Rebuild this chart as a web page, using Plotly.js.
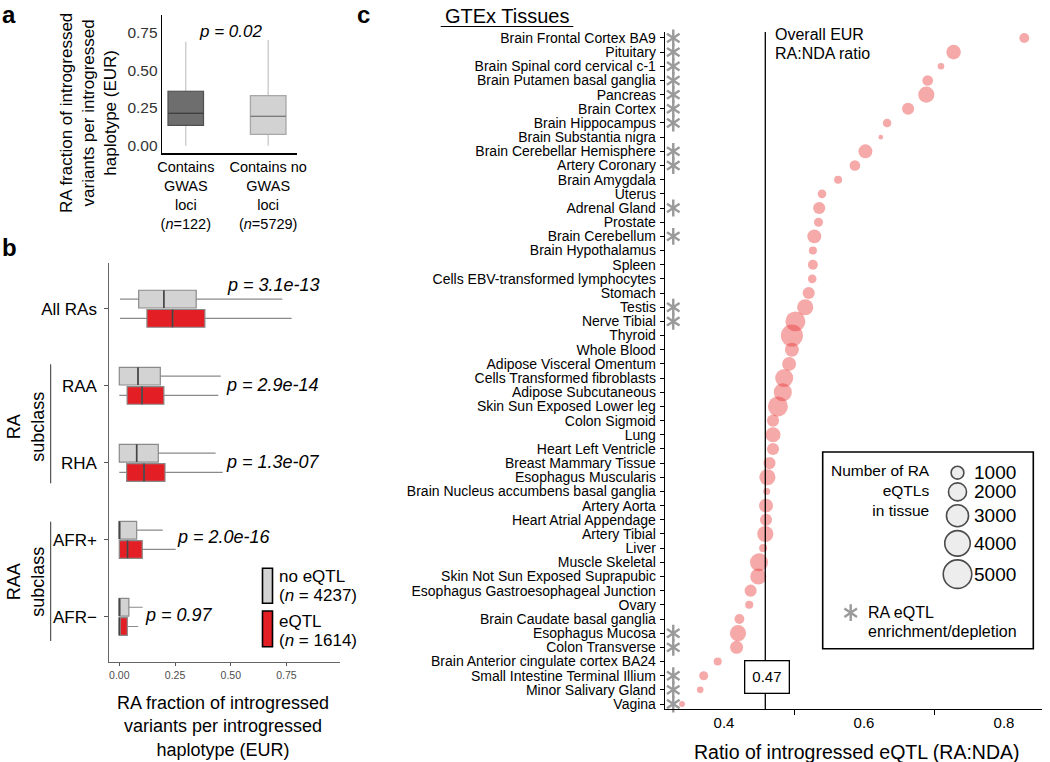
<!DOCTYPE html>
<html><head><meta charset="utf-8">
<script src="https://cdn.plot.ly/plotly-3.0.1.min.js"></script>
<style>html,body{margin:0;padding:0;background:#fff}#chart{width:1050px;height:762px}</style>
</head><body><div id="chart"></div>
<script>
// ---------- Panel a data ----------
const gwasGroups = ["Contains<br>GWAS<br>loci<br>(<i>n</i>=122)", "Contains no<br>GWAS<br>loci<br>(<i>n</i>=5729)"];
const gwasQ1 = [0.135, 0.075];
const gwasMedian = [0.214, 0.194];
const gwasQ3 = [0.360, 0.331];
const gwasLower = [0.0, 0.0];
const gwasUpper = [0.688, 0.699];
const gwasTickVals = [0, 0.25, 0.5, 0.75];
const gwasPValue = "p = 0.02";

// ---------- Panel b data ----------
const raClasses = ["All RAs", "RAA", "RHA", "AFR+", "AFR\u2212"];
const noEqtlQ1 = [0.087, 0.000, 0.000, 0.000, 0.000];
const noEqtlMedian = [0.200, 0.084, 0.078, 0.000, 0.000];
const noEqtlQ3 = [0.345, 0.184, 0.175, 0.078, 0.043];
const noEqtlLower = [0.003, 0.000, 0.000, 0.000, 0.000];
const noEqtlUpper = [0.731, 0.455, 0.432, 0.195, 0.105];
const eqtlQ1 = [0.124, 0.035, 0.033, 0.000, 0.000];
const eqtlMedian = [0.239, 0.102, 0.111, 0.037, 0.000];
const eqtlQ3 = [0.384, 0.200, 0.205, 0.103, 0.036];
const eqtlLower = [0.003, 0.000, 0.000, 0.000, 0.000];
const eqtlUpper = [0.773, 0.444, 0.464, 0.253, 0.085];
const raPValues = ["p = 3.1e-13", "p = 2.9e-14", "p = 1.3e-07", "p = 2.0e-16", "p = 0.97"];
const fracTickVals = [0, 0.25, 0.5, 0.75];
const noEqtlN = 4237;
const eqtlN = 1614;

// ---------- Panel c data ----------
const tissues = [
  "Brain Frontal Cortex BA9", "Pituitary", "Brain Spinal cord cervical c-1", "Brain Putamen basal ganglia",
  "Pancreas", "Brain Cortex", "Brain Hippocampus", "Brain Substantia nigra", "Brain Cerebellar Hemisphere",
  "Artery Coronary", "Brain Amygdala", "Uterus", "Adrenal Gland", "Prostate", "Brain Cerebellum",
  "Brain Hypothalamus", "Spleen", "Cells EBV-transformed lymphocytes", "Stomach", "Testis", "Nerve Tibial",
  "Thyroid", "Whole Blood", "Adipose Visceral Omentum", "Cells Transformed fibroblasts", "Adipose Subcutaneous",
  "Skin Sun Exposed Lower leg", "Colon Sigmoid", "Lung", "Heart Left Ventricle", "Breast Mammary Tissue",
  "Esophagus Muscularis", "Brain Nucleus accumbens basal ganglia", "Artery Aorta", "Heart Atrial Appendage",
  "Artery Tibial", "Liver", "Muscle Skeletal", "Skin Not Sun Exposed Suprapubic",
  "Esophagus Gastroesophageal Junction", "Ovary", "Brain Caudate basal ganglia", "Esophagus Mucosa",
  "Colon Transverse", "Brain Anterior cingulate cortex BA24", "Small Intestine Terminal Illium",
  "Minor Salivary Gland", "Vagina"
];
const ratio = [
  0.829, 0.728, 0.710, 0.691, 0.689, 0.663, 0.633, 0.624, 0.602, 0.587, 0.563, 0.540,
  0.536, 0.535, 0.529, 0.527, 0.527, 0.526, 0.521, 0.516, 0.502, 0.497, 0.497, 0.493,
  0.486, 0.484, 0.477, 0.470, 0.470, 0.470, 0.465, 0.462, 0.461, 0.460, 0.460, 0.459,
  0.456, 0.450, 0.449, 0.438, 0.436, 0.422, 0.420, 0.418, 0.391, 0.371, 0.366, 0.340
];
const nEqtl = [
  600, 1300, 270, 700, 1600, 900, 450, 130, 1200, 700, 400, 450,
  900, 500, 1200, 400, 600, 450, 900, 1600, 2450, 3000, 1200, 1200,
  2000, 2000, 2450, 900, 1400, 900, 900, 1600, 300, 1200, 900, 1600,
  400, 2000, 1600, 900, 400, 600, 1600, 1040, 400, 500, 270, 220
];
const enrichedTissues = [
  "Brain Frontal Cortex BA9", "Pituitary", "Brain Spinal cord cervical c-1", "Brain Putamen basal ganglia",
  "Pancreas", "Brain Cortex", "Brain Hippocampus", "Brain Cerebellar Hemisphere", "Artery Coronary",
  "Adrenal Gland", "Brain Cerebellum", "Testis", "Nerve Tibial", "Esophagus Mucosa", "Colon Transverse",
  "Small Intestine Terminal Illium", "Minor Salivary Gland", "Vagina"
];
const overallRatio = 0.459;
const overallLabel = "0.47";
const sizeLegendValues = [1000, 2000, 3000, 4000, 5000];
const ratioTickVals = [0.4, 0.6, 0.8];
const ratioMinorTicks = [0.5, 0.7];

// ---------- helpers ----------
const W = 1050, H = 762;
const px = v => v / W;
const py = v => 1 - v / H;
const FONT = "Liberation Sans, Arial, Helvetica, sans-serif";
const SIZEREF = 12.3;
const bubbleDiam = n => Math.sqrt(2 * n / SIZEREF);
const AST_GRAY = "#9a9a9a";

const traces = [];

// Panel a boxes: whiskers (light), then filled boxes
traces.push({
  type: "box", xaxis: "x", yaxis: "y", x: [1, 2],
  q1: gwasQ1, median: gwasMedian, q3: gwasQ3, lowerfence: gwasLower, upperfence: gwasUpper,
  width: 0.43, whiskerwidth: 0, fillcolor: "rgba(0,0,0,0)", line: {color: "#c4c4c4", width: 1.2},
  boxpoints: false, hoverinfo: "skip", showlegend: false
});
const aFill = ["#6e6e6e", "#d2d2d2"];
const aLine = ["#505050", "#a8a8a8"];
const aMed = ["#404040", "#7a7a7a"];
for (let i = 0; i < 2; i++) {
  traces.push({
    type: "box", xaxis: "x", yaxis: "y", x: [i + 1],
    q1: [gwasQ1[i]], median: [gwasMedian[i]], q3: [gwasQ3[i]], lowerfence: [gwasQ1[i]], upperfence: [gwasQ3[i]],
    width: 0.43, whiskerwidth: 0, fillcolor: aFill[i], line: {color: aLine[i], width: 1.2},
    boxpoints: false, hoverinfo: "skip", showlegend: false
  });
  traces.push({
    type: "scatter", mode: "lines", xaxis: "x", yaxis: "y",
    x: [i + 1 - 0.215, i + 1 + 0.215], y: [gwasMedian[i], gwasMedian[i]],
    line: {color: aMed[i], width: 1.3}, hoverinfo: "skip", showlegend: false
  });
}

// Panel b boxes
const bPos = raClasses.map((c, i) => raClasses.length - i);
const bOff = 0.125, bW = 0.23;
function hbox(q1, med, q3, lo, hi, off, fill) {
  traces.push({
    type: "box", orientation: "h", xaxis: "x2", yaxis: "y2", y: bPos.map(p => p + off),
    q1: q1, median: med, q3: q3, lowerfence: lo, upperfence: hi,
    width: bW, whiskerwidth: 0, fillcolor: fill, line: {color: "#8a8a8a", width: 1.2},
    boxpoints: false, hoverinfo: "skip", showlegend: false
  });
  const mx = [], my = [];
  med.forEach((m, i) => { mx.push(m, m, null); my.push(bPos[i] + off - bW / 2, bPos[i] + off + bW / 2, null); });
  traces.push({
    type: "scatter", mode: "lines", xaxis: "x2", yaxis: "y2", x: mx, y: my,
    line: {color: "#444", width: 1.6}, hoverinfo: "skip", showlegend: false
  });
}
hbox(noEqtlQ1, noEqtlMedian, noEqtlQ3, noEqtlLower, noEqtlUpper, bOff, "#d3d3d3");
hbox(eqtlQ1, eqtlMedian, eqtlQ3, eqtlLower, eqtlUpper, -bOff, "#e31e24");

// Panel c bubbles
traces.push({
  type: "scatter", mode: "markers", xaxis: "x3", yaxis: "y3", x: ratio, y: tissues,
  marker: {size: nEqtl, sizemode: "area", sizeref: SIZEREF, color: "rgba(230,50,50,0.6)", line: {width: 0}},
  hoverinfo: "skip", showlegend: false
});
// asterisks (six-spoke = y-up + y-down)
const astX = 0.3275;
["y-up-open", "y-down-open"].forEach(sym => {
  traces.push({
    type: "scatter", mode: "markers", xaxis: "x3", yaxis: "y3",
    x: enrichedTissues.map(() => astX), y: enrichedTissues,
    marker: {symbol: sym, size: 10.5, color: AST_GRAY, line: {color: AST_GRAY, width: 2.4}},
    hoverinfo: "skip", showlegend: false, cliponaxis: false
  });
});

// Panel c size legend (overlay pixel axis)
const legX = 957.5;
const legY = [];
let yy = 472.7;
sizeLegendValues.forEach((v, i) => {
  if (i > 0) yy += (bubbleDiam(sizeLegendValues[i - 1]) + bubbleDiam(v)) / 2 + 3.8;
  legY.push(yy);
});
traces.push({
  type: "scatter", mode: "markers", xaxis: "x4", yaxis: "y4",
  x: sizeLegendValues.map(() => legX), y: legY,
  marker: {size: sizeLegendValues, sizemode: "area", sizeref: SIZEREF, color: "#e6e6e6", line: {color: "#000", width: 1.6}},
  hoverinfo: "skip", showlegend: false, cliponaxis: false
});
["y-up-open", "y-down-open"].forEach(sym => {
  traces.push({
    type: "scatter", mode: "markers", xaxis: "x4", yaxis: "y4", x: [850.7], y: [612.7],
    marker: {symbol: sym, size: 10.5, color: AST_GRAY, line: {color: AST_GRAY, width: 2.4}},
    hoverinfo: "skip", showlegend: false, cliponaxis: false
  });
});

// ---------- annotations ----------
const ann = [];
function t(text, x, y, size, opts) {
  ann.push(Object.assign({text: text, x: px(x), y: py(y), xref: "paper", yref: "paper",
    showarrow: false, xanchor: "center", yanchor: "middle", font: {size: size, color: "#000", family: FONT}}, opts || {}));
}
t("<b>a</b>", 9, 15, 24);
t("<b>b</b>", 9, 247, 24);
t("<b>c</b>", 363, 15, 24);
t("<i>" + gwasPValue + "</i>", 230.8, 31.7, 17);
t("RA fraction of introgressed<br>variants per introgressed<br>haplotype (EUR)", 88, 113, 17, {textangle: -90});
const pvX = [225, 224, 224, 175, 143.3];
const pvY = [285, 385, 461.7, 536.7, 615];
raPValues.forEach((p, i) => t("<i>" + p + "</i>", pvX[i], pvY[i], 18, {xanchor: "left"}));
t("RA<br>subclass", 26, 426.7, 18, {textangle: -90});
t("RAA<br>subclass", 26, 581.7, 18, {textangle: -90});
t("no eQTL", 276.5, 576, 17, {xanchor: "left"});
t("(<i>n</i> = " + noEqtlN + ")", 276.5, 595, 17, {xanchor: "left"});
t("eQTL", 276.5, 621, 17, {xanchor: "left"});
t("(<i>n</i> = " + eqtlN + ")", 276.5, 640, 17, {xanchor: "left"});
t("RA fraction of introgressed<br>variants per introgressed<br>haplotype (EUR)", 223, 726, 18);
t("GTEx Tissues", 507, 16, 20);
t("Overall EUR", 773, 34.3, 16, {xanchor: "left"});
t("RA:NDA ratio", 773, 53.7, 16, {xanchor: "left"});
t(overallLabel, 766.7, 677, 15, {bgcolor: "#fff", bordercolor: "#000", borderwidth: 1.3, borderpad: 7});
t("Number of RA<br>eQTLs<br>in tissue", 931.7, 490, 15.5, {xanchor: "right", align: "right"});
sizeLegendValues.forEach((v, i) => t(String(v), 972, legY[i], 19, {xanchor: "left"}));
t("RA eQTL", 866, 612.7, 16, {xanchor: "left"});
t("enrichment/depletion", 866, 631.3, 16, {xanchor: "left"});
t("Ratio of introgressed eQTL (RA:NDA)", 856, 751.7, 19.5);

// ---------- shapes ----------
const shapes = [
  {type: "line", xref: "x3", yref: "paper", x0: overallRatio, x1: overallRatio, y0: py(709), y1: py(32), line: {color: "#000", width: 1.3}},
  {type: "rect", xref: "paper", yref: "paper", x0: px(822.7), x1: px(1033.3), y0: py(648.7), y1: py(452), line: {color: "#000", width: 1.6}, fillcolor: "rgba(0,0,0,0)"},
  {type: "line", xref: "paper", yref: "paper", x0: px(50.7), x1: px(50.7), y0: py(364.3), y1: py(483.3), line: {color: "#333", width: 1}},
  {type: "line", xref: "paper", yref: "paper", x0: px(50.7), x1: px(50.7), y0: py(521.7), y1: py(641), line: {color: "#333", width: 1}},
  {type: "rect", xref: "paper", yref: "paper", x0: px(262.5), x1: px(272.5), y0: py(603.3), y1: py(568.3), line: {color: "#000", width: 1.6}, fillcolor: "#d3d3d3"},
  {type: "rect", xref: "paper", yref: "paper", x0: px(262.5), x1: px(272.5), y0: py(646.7), y1: py(611), line: {color: "#000", width: 1.6}, fillcolor: "#e31e24"},
  {type: "line", xref: "paper", yref: "paper", x0: px(440.7), x1: px(573.3), y0: py(26.5), y1: py(26.5), line: {color: "#000", width: 1.2}}
];

const layout = {
  width: W, height: H, autosize: false,
  margin: {l: 0, r: 0, t: 0, b: 0},
  paper_bgcolor: "#fff", plot_bgcolor: "rgba(0,0,0,0)",
  font: {family: FONT, color: "#000"},
  showlegend: false, boxmode: "overlay",
  xaxis: {domain: [px(162.3), px(297)], range: [0.715, 2.35], anchor: "y",
    tickmode: "array", tickvals: [1, 2], ticktext: gwasGroups, ticks: "",
    tickfont: {size: 14.5, color: "#000"}, showline: true, linecolor: "#000", linewidth: 1.6,
    showgrid: false, zeroline: false, fixedrange: true},
  yaxis: {domain: [py(153.3), py(15)], range: [-0.05, 0.864], anchor: "x",
    tickmode: "array", tickvals: gwasTickVals, ticktext: gwasTickVals.map(v => v.toFixed(2)), ticks: "",
    tickfont: {size: 15.5, color: "#333"}, showline: true, linecolor: "#000", linewidth: 1.6,
    showgrid: false, zeroline: false, fixedrange: true},
  xaxis2: {domain: [px(109.3), px(340)], range: [-0.0448, 0.99], anchor: "y2",
    tickmode: "array", tickvals: fracTickVals, ticktext: fracTickVals.map(v => v.toFixed(2)),
    ticks: "outside", ticklen: 3, tickcolor: "#555", tickwidth: 1,
    tickfont: {size: 10.5, color: "#4d4d4d"}, showline: true, linecolor: "#666", linewidth: 1,
    showgrid: false, zeroline: false, fixedrange: true},
  yaxis2: {domain: [py(662.3), py(263.3)], range: [0.41, 5.59], anchor: "x2",
    tickmode: "array", tickvals: bPos, ticktext: raClasses,
    ticks: "outside", ticklen: 4, tickcolor: "#555", tickwidth: 1, ticklabelstandoff: 4,
    tickfont: {size: 17, color: "#000"}, showline: true, linecolor: "#666", linewidth: 1,
    showgrid: false, zeroline: false, fixedrange: true},
  xaxis3: {domain: [px(665), px(1042)], range: [0.3157, 0.8543], anchor: "y3",
    tickmode: "array", tickvals: ratioTickVals, ticktext: ratioTickVals.map(v => v.toFixed(1)), ticks: "",
    minor: {tickmode: "array", tickvals: ratioMinorTicks, ticks: "outside", ticklen: 5, tickcolor: "#000", tickwidth: 1, showgrid: false},
    tickfont: {size: 15, color: "#000"}, showline: true, linecolor: "#000", linewidth: 1.3,
    showgrid: false, zeroline: false, fixedrange: true},
  yaxis3: {domain: [py(709), py(32)], type: "category", categoryorder: "array", categoryarray: tissues,
    range: [47.35, -0.42], anchor: "x3",
    tickmode: "array", tickvals: tissues, ticktext: tissues,
    ticks: "outside", ticklen: 4, tickcolor: "#000", tickwidth: 1, ticklabelstandoff: 1,
    tickfont: {size: 14, color: "#000"}, showline: true, linecolor: "#000", linewidth: 1.3,
    showgrid: false, zeroline: false, fixedrange: true},
  xaxis4: {domain: [0, 1], range: [0, W], anchor: "y4", visible: false, fixedrange: true},
  yaxis4: {domain: [0, 1], range: [H, 0], anchor: "x4", visible: false, fixedrange: true},
  annotations: ann,
  shapes: shapes
};

Plotly.newPlot("chart", traces, layout, {staticPlot: true, displayModeBar: false});
</script>
</body></html>
